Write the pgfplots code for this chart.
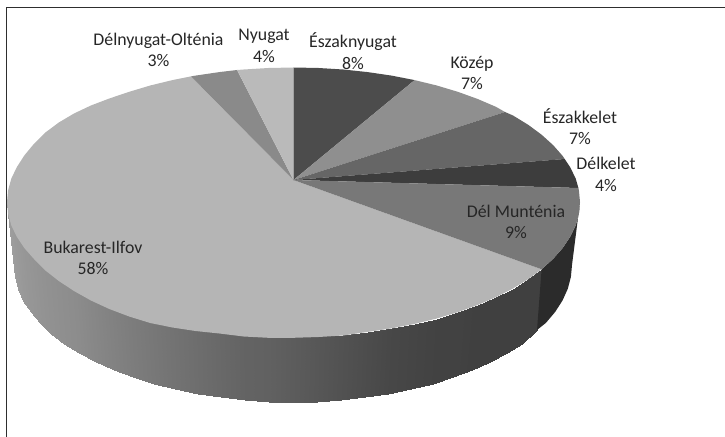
\documentclass[border=0pt]{standalone}
\usepackage{pgfplots}
\pgfplotsset{compat=1.18}
\usepackage{fontspec}
\setmainfont{Carlito}
\definecolor{lbl}{HTML}{262626}
\newcommand{\lab}[3]{\node[text=lbl,align=center,inner sep=0pt,anchor=center,font=\fontsize{17.8bp}{21.5bp}\selectfont] at (axis cs:#1,#2) {#3};}
\begin{document}
\begin{tikzpicture}
\begin{axis}[
  scale only axis, width=725bp, height=437bp,
  xmin=0, xmax=725, ymin=0, ymax=437, y dir=reverse,
  hide axis, clip=true,
  colormap={g}{gray(0cm)=(0); gray(1cm)=(1)},
  point meta min=0, point meta max=1,
]
\addplot[draw=none, forget plot] coordinates {(0,0) (725,437)};
% frame
\addplot[draw=black!82, line width=1.8bp] coordinates {(6.5,437) (6.5,7.5) (725,7.5)};
% side: Bukarest-Ilfov
\addplot[surf, shader=interp, mesh/rows=2, point meta=explicit] coordinates {
(7.0,202) [0.63] (8.1,213.7) [0.62] (11.3,225.4) [0.61] (16.8,236.8) [0.60] (24.3,248.0) [0.59] (33.8,258.8) [0.58] (45.4,269.3) [0.57] (58.8,279.2) [0.56] (74.0,288.5) [0.55] (90.9,297.1) [0.53] (109.3,305.0) [0.51] (129.2,312.2) [0.49] (150.2,318.5) [0.47] (172.4,323.9) [0.45] (195.5,328.4) [0.43] (219.3,331.9) [0.41] (243.7,334.5) [0.39] (268.5,336.0) [0.38] (293.5,336.5) [0.36] (318.5,336.0) [0.34] (343.3,334.5) [0.32] (367.7,331.9) [0.30] (391.5,328.4) [0.28] (414.6,323.9) [0.27] (436.8,318.5) [0.26] (457.8,312.2) [0.26] (477.7,305.0) [0.25] (496.1,297.1) [0.25] (513.0,288.5) [0.25] (528.2,279.2) [0.25] (541.6,269.3) [0.25]

(14,265) [0.63] (15.1,276.9) [0.62] (18.2,288.8) [0.61] (23.5,300.5) [0.60] (30.8,311.9) [0.59] (40.1,322.9) [0.58] (51.4,333.5) [0.57] (64.5,343.6) [0.56] (79.3,353.1) [0.55] (95.7,361.9) [0.53] (113.7,369.9) [0.51] (133,377.2) [0.49] (153.5,383.6) [0.47] (175.1,389.2) [0.45] (197.6,393.7) [0.43] (220.8,397.3) [0.41] (244.6,399.9) [0.39] (268.7,401.5) [0.38] (293,402) [0.36] (317.3,401.5) [0.34] (341.4,399.9) [0.32] (365.2,397.3) [0.30] (388.4,393.7) [0.28] (410.9,389.2) [0.27] (432.5,383.6) [0.26] (453,377.2) [0.26] (472.3,369.9) [0.25] (490.3,361.9) [0.25] (506.7,353.1) [0.25] (521.5,343.6) [0.25] (537,330) [0.25]
};
% side: Dél Munténia
\addplot[fill=black!83, draw=none] coordinates {(541.6,269.3) (553.2,258.8) (562.7,248.0) (570.2,236.8) (575.7,225.4) (578.9,213.7) (580,202) (572,265) (570.9,276.9) (567.8,288.8) (562.5,300.5) (555.2,311.9) (545.9,322.9) (537,330)} --cycle;
% top: sectors
\addplot[fill=black!29, draw=none] coordinates {(293.5,180) (541.6,269.3) (528.2,279.2) (513.0,288.5) (496.1,297.1) (477.7,305.0) (457.8,312.2) (436.8,318.5) (414.6,323.9) (391.5,328.4) (367.7,331.9) (343.3,335.5) (318.5,337) (293.5,337.8) (268.5,337.8) (243.7,336.5) (219.3,333.5) (195.5,331) (172.4,327.5) (150.2,323) (129.2,316.5) (109.3,309) (90.9,300.5) (74.0,291) (58.8,281) (45.4,270.5) (33.8,258.8) (24.3,248.0) (16.8,236.8) (11.3,225.4) (8.1,213.7) (7.0,202) (8.1,190.3) (11.3,178.6) (16.8,167.2) (24.3,155.5) (33.8,144) (45.4,132.5) (58.8,122.5) (74.0,113.5) (90.9,105.5) (109.3,98.5) (129.2,91.8) (150.2,85.5) (172.4,80.1) (191,76.4)} --cycle;
\addplot[fill=black!46, draw=none] coordinates {(293.5,180) (191,76.4) (195.5,75.6) (219.3,72.1) (237,70)} --cycle;
\addplot[fill=black!27, draw=none] coordinates {(293.5,180) (237,70) (243.7,69.5) (268.5,68.0) (293.5,67.5)} --cycle;
\addplot[fill=black!70, draw=none] coordinates {(293.5,180) (293.5,67.5) (318.5,68.0) (343.3,69.5) (367.7,72.1) (391.5,75.6) (414.6,80.1)} --cycle;
\addplot[fill=black!44, draw=none] coordinates {(293.5,180) (414.6,80.1) (436.8,85.5) (457.8,91.8) (477.7,99.0) (496.1,106.9) (505,112)} --cycle;
\addplot[fill=black!60, draw=none] coordinates {(293.5,180) (505,112) (513.0,115.5) (528.2,124.8) (541.6,134.7) (553.2,145.2) (562.7,156) (564.7,159)} --cycle;
\addplot[fill=black!76, draw=none] coordinates {(293.5,180) (564.7,159) (570.2,167.2) (575.7,178.6) (578.4,188)} --cycle;
\addplot[fill=black!53, draw=none] coordinates {(293.5,180) (578.4,188) (578.9,190.3) (580,202) (578.9,213.7) (575.7,225.4) (570.2,236.8) (562.7,248.0) (553.2,258.8) (541.6,269.3)} --cycle;
% labels
\lab{158.5}{50}{Délnyugat-Olténia\\3\%}
\lab{264}{46}{Nyugat\\4\%}
\lab{353}{51}{Északnyugat\\8\%}
\lab{472}{73}{Közép\\7\%}
\lab{580}{126.5}{Északkelet\\7\%}
\lab{606}{174.5}{Délkelet\\4\%}
\lab{516}{222}{Dél Munténia\\9\%}
\lab{93}{258}{Bukarest-Ilfov\\58\%}
\end{axis}
\end{tikzpicture}
\end{document}
